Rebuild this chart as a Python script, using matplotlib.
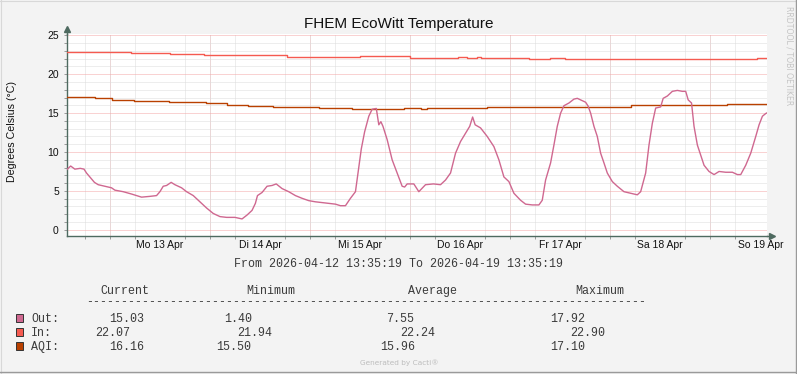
import matplotlib
matplotlib.use("Agg")
import matplotlib.pyplot as plt
from matplotlib.ticker import FixedLocator, MultipleLocator, NullFormatter
from matplotlib.patches import Rectangle
from matplotlib.lines import Line2D
import pandas as pd

# ---------------- data ----------------
start = pd.Timestamp("2026-04-12 13:35:19")
end = pd.Timestamp("2026-04-19 13:35:19")

out_hours = [0, 1.0, 2.0, 3.3, 4.2, 4.8, 5.6, 6.7, 7.6, 9.2, 10.8, 11.6, 13.6, 15.6, 16.8,
             18.0, 20.0, 21.6, 22.4, 23.2, 24.0, 25.1, 26.0, 27.6, 28.8, 30.4, 32.0, 33.6,
             35.2, 36.8, 38.4, 40.4, 41.6, 42.1, 43.3, 44.5, 45.3, 45.8, 46.9, 48.1, 49.3,
             50.3, 51.7, 53.3, 54.9, 56.5, 58.1, 59.7, 61.3, 62.9, 64.5, 65.7, 66.9, 68.1,
             69.3, 70.1, 70.7, 71.5, 72.5, 73.3, 74.3, 74.9, 75.4, 75.9, 76.9, 78.1, 79.3,
             80.5, 81.1, 81.7, 83.3, 84.5, 86.1, 88.0, 89.7, 90.9, 92.1, 93.3, 94.5, 95.7,
             96.7, 97.4, 98.0, 99.3, 100.9, 102.5, 103.7, 104.9, 106.1, 107.3, 108.9, 110.1,
             111.7, 113.3, 114.1, 114.9, 116.1, 116.9, 117.7, 118.5, 119.3, 120.5, 121.7,
             122.5, 123.7, 124.5, 125.1, 125.7, 126.5, 127.3, 128.1, 128.9, 129.7, 130.9,
             132.1, 133.7, 135.3, 136.9, 137.7, 138.9, 139.7, 140.5, 141.3, 142.5, 143.1,
             144.1, 145.3, 146.5, 147.7, 148.5, 149.1, 149.9, 150.5, 151.3, 152.1, 152.9,
             154.1, 155.3, 156.5, 158.1, 159.7, 160.9, 161.7, 162.9, 164.1, 165.3, 166.1,
             166.9, 167.7, 168.0]
out_vals = [7.7, 8.2, 7.8, 7.9, 7.8, 7.3, 6.8, 6.1, 5.8, 5.6, 5.4, 5.1, 4.9, 4.6, 4.4,
            4.2, 4.3, 4.4, 4.9, 5.6, 5.7, 6.1, 5.8, 5.4, 4.9, 4.4, 3.6, 2.8,
            2.1, 1.7, 1.6, 1.6, 1.45, 1.40, 1.9, 2.5, 3.4, 4.4, 4.8, 5.6, 5.7,
            5.9, 5.3, 4.9, 4.4, 4.05, 3.75, 3.6, 3.5, 3.4, 3.3, 3.1, 3.1, 4.05,
            4.9, 8.1, 10.4, 12.6, 14.6, 15.5, 15.6, 13.5, 13.9, 13.3, 11.6, 9.0, 7.3,
            5.6, 5.5, 5.9, 5.9, 4.9, 5.8, 5.9, 5.8, 6.4, 7.3, 9.85, 11.35, 12.4,
            13.3, 14.5, 13.5, 13.1, 12.0, 10.7, 9.0, 6.8, 6.2, 4.7, 3.8, 3.3,
            3.2, 3.2, 3.8, 6.4, 8.6, 10.9, 13.3, 15.0, 15.95, 16.3, 16.8,
            16.9, 16.6, 16.4, 15.9, 15.0, 13.3, 12.0, 9.85, 8.6, 7.3, 6.2,
            5.6, 4.9, 4.7, 4.5, 4.9, 7.3, 10.9, 13.7, 15.65, 15.8, 16.9,
            17.2, 17.8, 17.92, 17.8, 17.8, 16.7, 16.3, 13.3, 10.9, 9.6, 8.3,
            7.5, 7.1, 7.5, 7.4, 7.4, 7.1, 7.1, 8.3, 9.85, 12.0, 13.5,
            14.6, 14.95, 15.03]

in_hours = [0, 15.5, 24.9, 33.0, 40.5, 52.9, 70.5, 82.5, 94.0, 96.0, 98.5, 99.5,
            108.5, 111.0, 116.0, 119.5, 138.0, 141.0, 165.5, 168.1]
in_vals = [22.90, 22.77, 22.64, 22.51, 22.42, 22.25, 22.29, 22.12, 22.18, 22.12, 22.18, 22.12,
           22.04, 21.99, 22.06, 21.96, 22.02, 21.95, 22.07, 22.07]

aqi_hours = [0, 6.9, 10.8, 16.2, 24.6, 27.9, 33.4, 38.4, 43.6, 49.5, 60.6, 68.5, 81.0,
             85.0, 86.5, 100.9, 135.4, 148.3, 158.3, 168.1]
aqi_vals = [17.10, 16.97, 16.75, 16.58, 16.45, 16.37, 16.24, 16.07, 15.90, 15.81, 15.68, 15.50, 15.68,
            15.58, 15.68, 15.77, 15.98, 16.07, 16.16, 16.16]

day_labels = ["Mo 13 Apr", "Di 14 Apr", "Mi 15 Apr", "Do 16 Apr", "Fr 17 Apr", "Sa 18 Apr", "So 19 Apr"]

series_names = ["Out:", "In:", "AQI:"]
stat_current = ["15.03", "22.07", "16.16"]
stat_minimum = ["1.40", "21.94", "15.50"]
stat_average = ["7.55", "22.24", "15.96"]
stat_maximum = ["17.92", "22.90", "17.10"]

colors = ["#CF6890", "#F55A50", "#B94000"]

# ---------------- figure ----------------
W, H = 797, 374
fig = plt.figure(figsize=(W / 100, H / 100), dpi=100, facecolor="#F3F3F3")

def fx(px):
    return px / W

def fy(py):
    return 1 - py / H

ax_left, ax_right, ax_top, ax_bottom = 66.5, 767.0, 34.0, 235.5
ax = fig.add_axes([fx(ax_left), fy(ax_bottom), fx(ax_right - ax_left), (ax_bottom - ax_top) / H])
ax.set_facecolor("white")

total_h = (end - start).total_seconds() / 3600
ax.set_xlim(0, total_h)
ax.set_ylim(-0.73, 25.17)

# grid
first_mid = (pd.Timestamp("2026-04-13 00:00:00") - start).total_seconds() / 3600
midnights = [first_mid + 24 * k for k in range(7) if first_mid + 24 * k <= total_h]
sixes = []
v = first_mid - 6
while v <= total_h:
    if v >= 0:
        sixes.append(v)
    v += 6
noons = [first_mid + 12 + 24 * k for k in range(len(day_labels))]

dot = (0, (1, 1))
ax.xaxis.set_minor_locator(FixedLocator(sixes))
ax.xaxis.set_minor_formatter(NullFormatter())
ax.set_xticks(noons)
ax.set_xticklabels(day_labels)
ax.yaxis.set_major_locator(MultipleLocator(5))
ax.yaxis.set_minor_locator(MultipleLocator(1))

ax.grid(which="minor", axis="both", color="#DCDCDC", linestyle=dot, linewidth=0.72, zorder=0)
ax.grid(which="major", axis="y", color="#F4A6A6", linestyle=dot, linewidth=0.72, zorder=0)
for m in midnights:
    ax.axvline(m, color="#F4A6A6", linestyle=dot, linewidth=0.72, zorder=0.5)
ax.set_axisbelow(True)

axis_col = "#4E6A60"
for s in ["top", "right"]:
    ax.spines[s].set_visible(False)
for s in ["left", "bottom"]:
    ax.spines[s].set_color(axis_col)
    ax.spines[s].set_linewidth(1.0)

ax.tick_params(axis="x", which="major", length=0, pad=3.0, labelsize=7.5, labelcolor="#111111")
ax.tick_params(axis="x", which="minor", length=2.5, width=0.7, color="#9A9A9A", direction="out")
ax.tick_params(axis="y", which="both", length=2, width=0.7, color="#9A9A9A", direction="out",
               pad=3.5, labelsize=7.5, labelcolor="#111111")
for lab in ax.get_xticklabels() + ax.get_yticklabels():
    lab.set_fontfamily("Liberation Sans")

# arrows on axes
ax.plot([0], [1.025], marker="^", markersize=4, color=axis_col, transform=ax.transAxes, clip_on=False)
ax.plot([0, 0], [1.0, 1.025], color=axis_col, lw=1.0, transform=ax.transAxes, clip_on=False)
ax.plot([1.0065], [0], marker=">", markersize=4, color=axis_col, transform=ax.transAxes, clip_on=False)
ax.plot([1.0, 1.0065], [0, 0], color=axis_col, lw=1.0, transform=ax.transAxes, clip_on=False)

# series
ax.plot(in_hours, in_vals, color=colors[1], lw=1.0, drawstyle="steps-post", zorder=3)
ax.plot(aqi_hours, aqi_vals, color=colors[2], lw=1.0, drawstyle="steps-post", zorder=3)
ax.plot(out_hours, out_vals, color=colors[0], lw=1.0, zorder=4)

# titles
fig.text(fx(399), fy(28.3), "FHEM EcoWitt Temperature", ha="center", va="baseline",
         fontsize=11, family="Liberation Sans", color="#111111")
fig.text(fx(12), fy(131), "Degrees Celsius (°C)", rotation=90, ha="center", va="center",
         fontsize=7.7, family="Liberation Sans", color="#111111")
fig.text(fx(788.5), fy(56), "RRDTOOL / TOBI OETIKER", rotation=270, ha="center", va="center",
         fontsize=5.6, family="DejaVu Sans", color="#C4C4C4")

mono = dict(family="Liberation Mono", fontsize=8.4, color="#3A3A3A", va="baseline", ha="left")
fig.text(fx(234), fy(267), "From %s To %s" % (start.strftime("%Y-%m-%d %H:%M:%S"),
                                              end.strftime("%Y-%m-%d %H:%M:%S")), **mono)
for x, t in zip([100, 246, 408, 575], ["Current", "Minimum", "Average", "Maximum"]):
    fig.text(fx(x), fy(294), t, **mono)
fig.text(fx(86), fy(305), "-" * 80, **mono)

row_y = [322, 336, 350]
cur_x = [109, 95, 109]
min_x = [224, 237, 216]
avg_x = [386, 400, 380]
max_x = [550, 570, 550]
for i in range(3):
    fig.patches.append(Rectangle((fx(16), fy(row_y[i])), fx(7), 8 / H, transform=fig.transFigure,
                                 facecolor=colors[i], edgecolor="#333333", linewidth=0.7))
    fig.text(fx(31), fy(row_y[i]), series_names[i], **mono)
    fig.text(fx(cur_x[i]), fy(row_y[i]), stat_current[i], **mono)
    fig.text(fx(min_x[i]), fy(row_y[i]), stat_minimum[i], **mono)
    fig.text(fx(avg_x[i]), fy(row_y[i]), stat_average[i], **mono)
    fig.text(fx(max_x[i]), fy(row_y[i]), stat_maximum[i], **mono)

fig.text(fx(399), fy(363), "Generated by Cacti®", ha="center", va="center",
         fontsize=5.3, family="DejaVu Sans", color="#BDBDBD")

# frame
fig.lines.append(Line2D([0, 1], [1 - 0.5 / H, 1 - 0.5 / H], transform=fig.transFigure, color="#D8D8D8", lw=0.8))
fig.lines.append(Line2D([0.5 / W, 0.5 / W], [0, 1], transform=fig.transFigure, color="#D8D8D8", lw=0.8))
fig.lines.append(Line2D([1 - 0.7 / W, 1 - 0.7 / W], [0, 1], transform=fig.transFigure, color="#9A9A9A", lw=1.0))
fig.lines.append(Line2D([0, 1], [1.7 / H, 1.7 / H], transform=fig.transFigure, color="#9A9A9A", lw=1.0))

fig.savefig("out.png", dpi=100, facecolor=fig.get_facecolor())
